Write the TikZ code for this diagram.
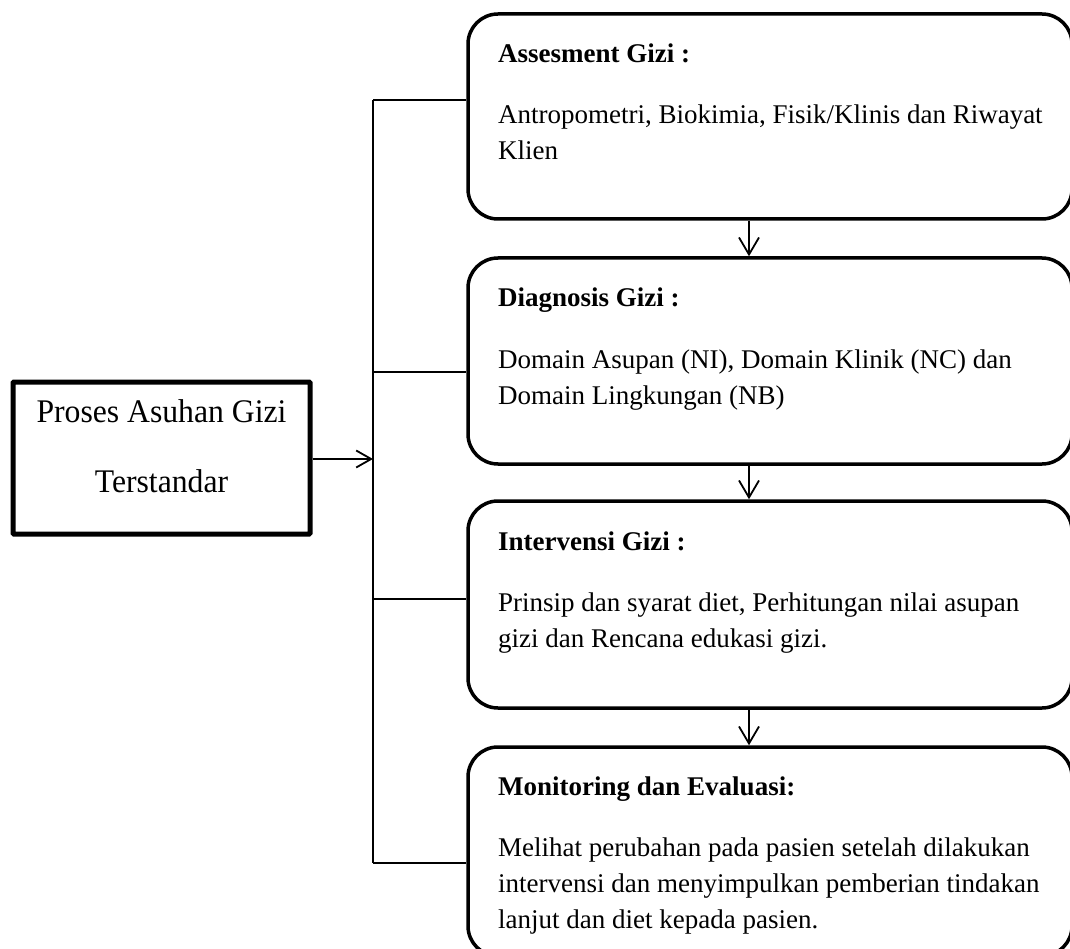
\documentclass[tikz,border=0pt]{standalone}
\usepackage{fontspec}
\usepackage{graphicx}
\setmainfont{Liberation Serif}
\usetikzlibrary{arrows.meta}
\newcommand\sqzl[1]{\scalebox{0.96}[1]{#1}}
\tikzset{
  rbox/.style={draw, line width=3.5pt, rounded corners=30pt, minimum width=604pt, inner sep=0pt},
  lbox/.style={draw, line width=5pt, rounded corners=1pt, minimum width=297pt, minimum height=152pt, inner sep=0pt},
  txt/.style={anchor=base west, inner sep=0pt, font=\fontsize{27}{34}\selectfont},
  ttl/.style={anchor=base west, inner sep=0pt, font=\fontsize{27}{34}\selectfont\bfseries},
  ltxt/.style={anchor=base, inner sep=0pt, font=\fontsize{33}{40}\selectfont},
  thin/.style={line width=1.8pt},
  arr/.style={line width=1.8pt, -{Straight Barb[length=17pt,width=20pt,line width=1.8pt]}},
  larr/.style={line width=1.8pt, -{Straight Barb[length=15pt,width=17pt,line width=1.8pt]}}
}
\begin{document}
\begin{tikzpicture}[x=1pt,y=-1pt]
\useasboundingbox (0,0) rectangle (1070,949);
\clip (0,0) rectangle (1070,949);
% right boxes
\node[rbox, minimum height=205pt] (b1) at (770,116.5) {};
\node[rbox, minimum height=206pt] (b2) at (770,361) {};
\node[rbox, minimum height=207pt] (b3) at (770,604.5) {};
\node[rbox, minimum height=209pt] (b4) at (770,851.5) {};
% left box
\node[lbox] (lb) at (161.5,458) {};
\node[ltxt] (l1) at (161.5,422) {\sqzl{Proses Asuhan Gizi}};
\node[ltxt] (l2) at (161.5,492) {\sqzl{Terstandar}};
% texts box 1
\node[ttl] (b1t) at (498,63) {Assesment Gizi :};
\node[txt] (b1a) at (498,124) {Antropometri, Biokimia, Fisik/Klinis dan Riwayat};
\node[txt] (b1b) at (498,160) {Klien};
% texts box 2
\node[ttl] (b2t) at (498,307) {Diagnosis Gizi :};
\node[txt] (b2a) at (498,368) {Domain Asupan (NI), Domain Klinik (NC) dan};
\node[txt] (b2b) at (498,404) {Domain Lingkungan (NB)};
% texts box 3
\node[ttl] (b3t) at (498,550) {Intervensi Gizi :};
\node[txt] (b3a) at (498,611) {Prinsip dan syarat diet, Perhitungan nilai asupan};
\node[txt] (b3b) at (498,647) {gizi dan Rencana edukasi gizi.};
% texts box 4
\node[ttl] (b4t) at (498,795) {Monitoring dan Evaluasi:};
\node[txt] (b4a) at (498,856) {Melihat perubahan pada pasien setelah dilakukan};
\node[txt] (b4b) at (498,892) {intervensi dan menyimpulkan pemberian tindakan};
\node[txt] (b4c) at (498,928) {lanjut dan diet kepada pasien.};
% bracket
\coordinate (t1) at (373,100);
\coordinate (t2) at (373,372);
\coordinate (t3) at (373,599);
\coordinate (t4) at (373,863);
\coordinate (ax) at (749,0);
\draw[thin] (t1) -- (t4);
\draw[thin] (t1) -- (b1.west |- t1);
\draw[thin] (t2) -- (b2.west |- t2);
\draw[thin] (t3) -- (b3.west |- t3);
\draw[thin] (t4) -- (b4.west |- t4);
% arrows
\coordinate (la) at (373,459);
\draw[larr] (lb.east |- la) -- (la);
\draw[arr] (b1.south -| ax) -- (b2.north -| ax);
\draw[arr] (b2.south -| ax) -- (b3.north -| ax);
\draw[arr] (b3.south -| ax) -- (b4.north -| ax);
\end{tikzpicture}
\end{document}
